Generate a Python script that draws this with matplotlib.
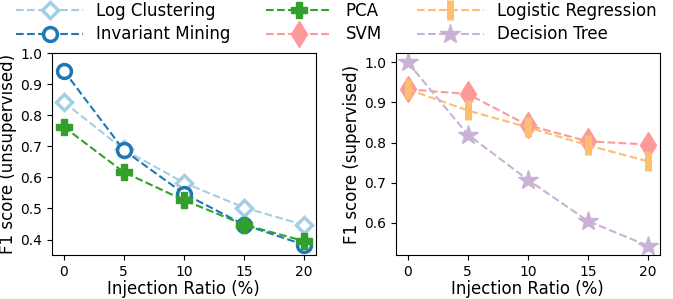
import matplotlib
matplotlib.use("Agg")
from matplotlib import pyplot as plt

ratios = [0, 5, 10, 15, 20]

# unsupervised
log_clustering = [0.843, 0.690, 0.583, 0.503, 0.447]
invariant_mining = [0.944, 0.688, 0.548, 0.448, 0.383]
pca = [0.763, 0.617, 0.527, 0.448, 0.395]

# supervised
svm = [0.933, 0.921, 0.843, 0.803, 0.795]
logistic_regression = [0.933, 0.880, 0.838, 0.793, 0.753]
decision_tree = [1.0, 0.820, 0.707, 0.604, 0.542]

fig = plt.figure(figsize=(6.73, 2.99), dpi=100)
ax1 = fig.add_axes([0.0768, 0.147, 0.3927, 0.675])
ax2 = fig.add_axes([0.588, 0.147, 0.3927, 0.675])

lines = []
l, = ax1.plot(ratios, log_clustering, '--', color='#a6cee3', marker='D', markersize=8,
              markerfacecolor='white', markeredgewidth=2.5, lw=1.5, label='Log Clustering')
lines.append(l)
l, = ax1.plot(ratios, invariant_mining, '--', color='#1f78b4', marker='o', markersize=10,
              markerfacecolor='white', markeredgewidth=2.5, lw=1.5, label='Invariant Mining')
lines.append(l)
l, = ax1.plot(ratios, pca, '--', color='#33a02c', marker='P', markersize=11.5,
              lw=1.5, label='PCA')
lines.append(l)

l, = ax2.plot(ratios, svm, '--', color='#fb9a99', marker='d', markersize=13,
              lw=1.5, label='SVM')
lines.append(l)
l, = ax2.plot(ratios, logistic_regression, '--', color='#fdbf6f', marker='|', markersize=14,
              markeredgewidth=5, lw=1.5, label='Logistic Regression')
lines.append(l)
l, = ax2.plot(ratios, decision_tree, '--', color='#cab2d6', marker='*', markersize=15,
              lw=1.5, label='Decision Tree')
lines.append(l)

ax1.set_xlim(-1, 21)
ax1.set_ylim(0.35, 1.0)
ax1.set_xticks(ratios)
ax1.set_yticks([0.4, 0.5, 0.6, 0.7, 0.8, 0.9, 1.0])
ax1.set_xlabel('Injection Ratio (%)', fontsize=12, labelpad=1)
ax1.set_ylabel('F1 score (unsupervised)', fontsize=12, labelpad=2)

ax2.set_xlim(-1, 21)
ax2.set_xticks(ratios)
ax2.set_yticks([0.6, 0.7, 0.8, 0.9, 1.0])
ax2.set_xlabel('Injection Ratio (%)', fontsize=12, labelpad=1)
ax2.set_ylabel('F1 score (supervised)', fontsize=12, labelpad=2)

for ax in (ax1, ax2):
    ax.tick_params(labelsize=10)

fig.legend(lines, [h.get_label() for h in lines], loc='upper center', ncol=3,
           bbox_to_anchor=(0.5, 1.045), frameon=False, fontsize=12,
           handlelength=4, handletextpad=0.8, columnspacing=2.1, labelspacing=0.35)

fig.savefig('out.png', dpi=100)
